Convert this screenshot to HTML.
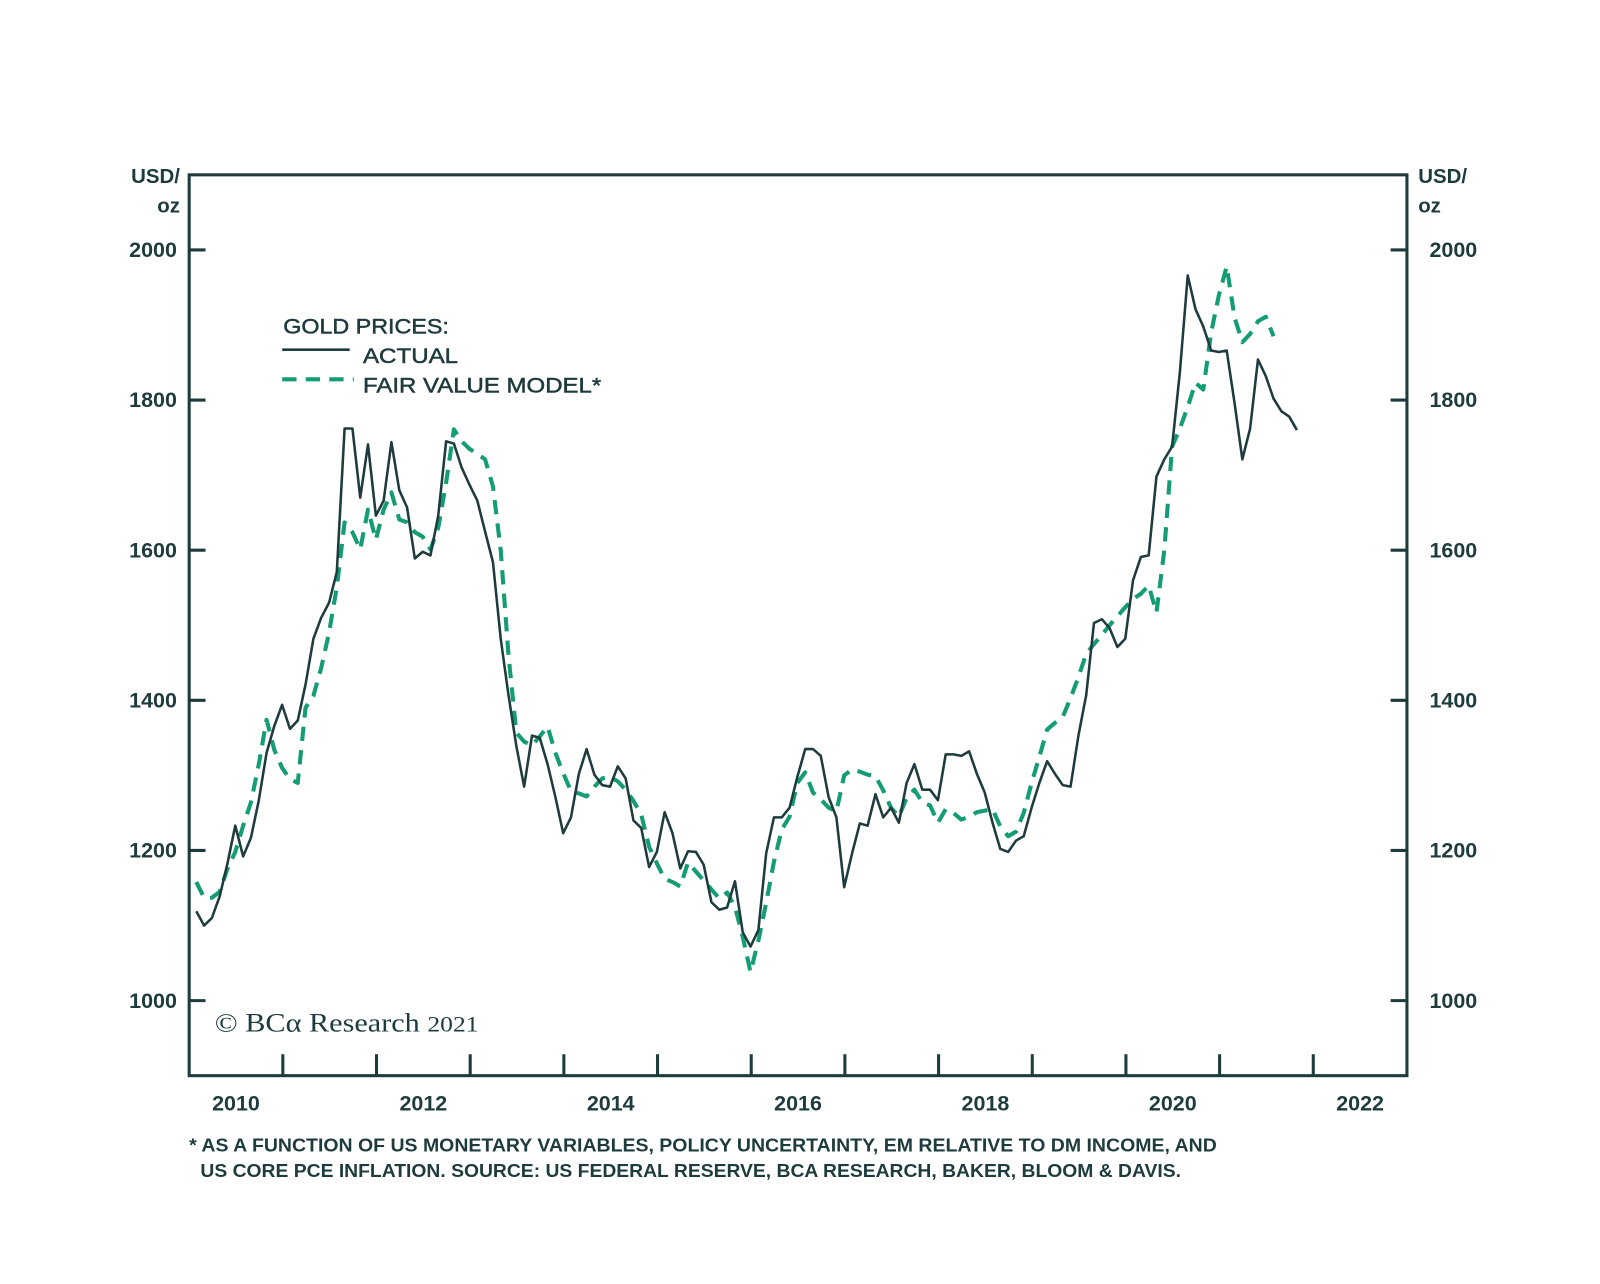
<!DOCTYPE html>
<html><head><meta charset="utf-8"><style>
html,body{margin:0;padding:0;background:#fff;}
svg{display:block;}
text{font-family:"Liberation Sans",Arial,sans-serif;fill:#1e3b3d;}
.leg{stroke:#1e3b3d;stroke-width:0.5;}
</style></head><body>
<svg id="chart" width="1600" height="1284" viewBox="0 0 1600 1284">
<g transform="scale(1.0225)">
<g id="axes"></g>
<g id="series"></g>
<g>
<text class="leg" x="277" y="326" font-size="21" textLength="162" lengthAdjust="spacingAndGlyphs">GOLD PRICES:</text>
<line x1="276" y1="342" x2="342" y2="342" stroke="#1e3b3d" stroke-width="2.5"/>
<text class="leg" x="355" y="355" font-size="21" textLength="93" lengthAdjust="spacingAndGlyphs">ACTUAL</text>
<line x1="276" y1="371" x2="346" y2="371" stroke="#149c74" stroke-width="4" stroke-dasharray="14,9"/>
<text class="leg" x="355" y="384" font-size="21" textLength="233" lengthAdjust="spacingAndGlyphs">FAIR VALUE MODEL*</text>
</g>
<text x="210" y="1009" font-size="26" textLength="258" lengthAdjust="spacingAndGlyphs" style="font-family:'Liberation Serif',serif">© BCα Research <tspan font-size="22">2021</tspan></text>
<text x="185" y="1126" font-size="18" font-weight="bold" textLength="1005" lengthAdjust="spacingAndGlyphs">* AS A FUNCTION OF US MONETARY VARIABLES, POLICY UNCERTAINTY, EM RELATIVE TO DM INCOME, AND</text>
<text x="196" y="1151" font-size="18" font-weight="bold" textLength="959" lengthAdjust="spacingAndGlyphs">US CORE PCE INFLATION. SOURCE: US FEDERAL RESERVE, BCA RESEARCH, BAKER, BLOOM &amp; DAVIS.</text>
<text x="176" y="179" font-size="20" font-weight="bold" text-anchor="end">USD/</text>
<text x="176" y="208" font-size="20" font-weight="bold" text-anchor="end">oz</text>
<text x="1387" y="179" font-size="20" font-weight="bold">USD/</text>
<text x="1387" y="208" font-size="20" font-weight="bold">oz</text>
</g>
</svg>
<script>
const yTicks = [1000, 1200, 1400, 1600, 1800, 2000];
const xTickYears = [2011,2012,2013,2014,2015,2016,2017,2018,2019,2020,2021,2022];
const xLabels = [2010, 2012, 2014, 2016, 2018, 2020, 2022];
const actual = [1119,1100,1110,1139,1183,1233,1192,1217,1266,1330,1366,1394,1362,1373,1421,1482,1510,1530,1571,1762,1762,1670,1741,1646,1666,1744,1680,1657,1589,1598,1593,1646,1745,1742,1710,1687,1666,1625,1584,1482,1407,1339,1285,1353,1350,1315,1271,1223,1244,1302,1335,1301,1287,1285,1312,1296,1240,1230,1178,1198,1251,1223,1176,1199,1198,1181,1131,1121,1124,1159,1091,1072,1094,1196,1244,1244,1257,1298,1335,1335,1326,1271,1244,1151,1196,1236,1233,1275,1244,1257,1237,1290,1315,1281,1281,1267,1328,1328,1326,1332,1302,1277,1237,1202,1198,1213,1219,1257,1290,1319,1302,1287,1285,1353,1407,1503,1508,1496,1471,1482,1560,1591,1593,1698,1721,1738,1837,1966,1921,1898,1866,1864,1866,1796,1721,1762,1854,1832,1802,1785,1778,1760];
const fairValue = [1158,1137,1137,1145,1176,1198,1233,1264,1314,1374,1334,1310,1295,1290,1390,1406,1443,1490,1551,1637,1624,1601,1654,1614,1654,1677,1641,1637,1624,1618,1601,1630,1690,1761,1745,1735,1728,1721,1685,1600,1460,1357,1345,1340,1352,1365,1330,1303,1279,1276,1272,1285,1296,1298,1292,1281,1266,1248,1205,1183,1162,1158,1152,1184,1172,1160,1148,1136,1144,1125,1085,1038,1080,1130,1185,1228,1245,1290,1304,1277,1268,1257,1252,1300,1308,1305,1301,1299,1280,1257,1245,1270,1281,1264,1260,1237,1255,1250,1241,1245,1251,1253,1255,1232,1219,1225,1250,1290,1325,1361,1370,1378,1403,1431,1462,1475,1487,1500,1512,1524,1535,1542,1553,1517,1600,1738,1762,1791,1823,1814,1890,1940,1978,1910,1877,1888,1905,1911,1885];
const startYear = 2010.076;

const L=185,R=1376,T=171,B=1052;
const X0=2010,X1=2023,Y0=900,Y1=2100;
const sx = t => L + (t-X0)/(X1-X0)*(R-L);
const sy = v => B - (v-Y0)/(Y1-Y0)*(B-T);
const NS='http://www.w3.org/2000/svg';
function mk(tag, attrs, parent){const e=document.createElementNS(NS,tag);for(const k in attrs)e.setAttribute(k,attrs[k]);parent.appendChild(e);return e;}
const axes=document.getElementById('axes');
const frame = mk('rect',{x:L,y:T,width:R-L,height:B-T,fill:'none',stroke:'#1e3b3d','stroke-width':3},axes);


yTicks.forEach(v=>{
  const y=sy(v);
  const t1=mk('line',{x1:L,y1:y,x2:L+16,y2:y,stroke:'#1e3b3d','stroke-width':3},axes);
  
  
  const t2=mk('line',{x1:R-16,y1:y,x2:R,y2:y,stroke:'#1e3b3d','stroke-width':3},axes);
  
  
  const l1=mk('text',{x:173,y:y+7,'font-size':21,'font-weight':'bold','text-anchor':'end'},axes);
  l1.textContent=v;
  
  
  const l2=mk('text',{x:1398,y:y+7,'font-size':21,'font-weight':'bold'},axes);
  l2.textContent=v;
  
  
});
xTickYears.forEach(yr=>{
  const x=sx(yr);
  const t=mk('line',{x1:x,y1:B,x2:x,y2:B-21,stroke:'#1e3b3d','stroke-width':3},axes);
  
  
});
xLabels.forEach(yr=>{
  const l=mk('text',{x:sx(yr+0.5),y:1086,'font-size':21,'font-weight':'bold','text-anchor':'middle'},axes);
  l.textContent=yr;
  
  
});
const series=document.getElementById('series');
function pts(arr){return arr.map((v,i)=>sx(startYear+i/12).toFixed(1)+','+sy(v).toFixed(1)).join(' ');}
const fv=mk('polyline',{points:pts(fairValue),fill:'none',stroke:'#149c74','stroke-width':4,'stroke-dasharray':'14,9','stroke-linejoin':'round'},series);


const ac=mk('polyline',{points:pts(actual),fill:'none',stroke:'#1e3b3d','stroke-width':2.5,'stroke-linejoin':'round'},series);


</script>
</body></html>
